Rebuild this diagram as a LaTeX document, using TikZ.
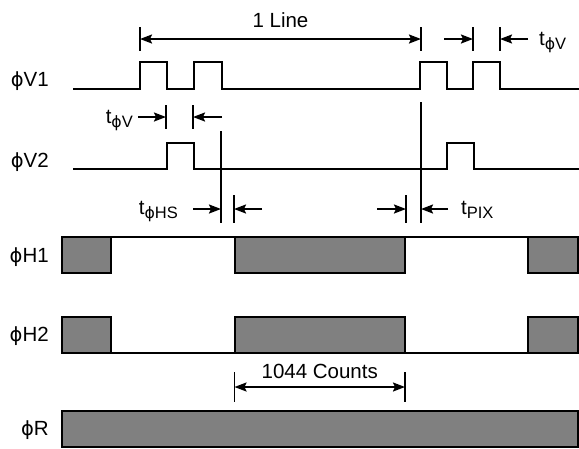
\documentclass[tikz,border=0pt]{standalone}
\usepackage{fontspec}
\setmainfont{Liberation Sans}
\newfontfamily\phifont[Scale=0.95]{DejaVu Sans}
\usetikzlibrary{arrows.meta}
\tikzstyle{signal}=[line width=2pt]
\tikzstyle{clockbox}=[draw=black, fill=black!50, line width=1.5pt]
\tikzstyle{tick}=[line width=1.8pt]
\tikzstyle{dim}=[draw, line width=1.8pt, -{Stealth[length=12pt,width=9pt,inset=2pt]}]
\tikzstyle{twodim}=[dim, {Stealth[length=12pt,width=9pt,inset=2pt]}-{Stealth[length=12pt,width=9pt,inset=2pt]}]
\tikzstyle{signame}=[anchor=base east, inner sep=0pt]
\tikzstyle{dimtext}=[midway, anchor=base, inner sep=0pt]
\tikzstyle{tname}=[inner sep=0pt]
\newcommand{\ph}{{\phifont ϕ}}
\newcommand{\tlabel}[1]{t\raisebox{-4.5pt}{\fontsize{16.5}{17}\selectfont #1}}

\begin{document}
\begin{tikzpicture}[x=1pt, y=-1pt, font=\fontsize{20.5}{24}\selectfont]
\useasboundingbox (0,0) rectangle (579,448);

% First we draw the signal names
\foreach \pos/\name/\lbl in {{(49,86)/V1/\ph V1}, {(49,167)/V2/\ph V2}, {(49,262)/H1/\ph H1},
                             {(49,341)/H2/\ph H2}, {(49,435)/R/\ph R}}
\node[signame] (n\name) at \pos {\lbl};

% Vertical clocks
\draw[signal] (73,89) \foreach \a/\b in {140/167, 194/222, 420/447, 473/500}
  { -- (\a,89) -- (\a,62) -- (\b,62) -- (\b,89) } -- (579,89);
\draw[signal] (73,169) \foreach \a/\b in {167/194, 447/474}
  { -- (\a,169) -- (\a,143) -- (\b,143) -- (\b,169) } -- (579,169);

% Horizontal clocks and reset
\draw[clockbox] (62,237) -- (578,237);
\draw[clockbox] (62,353) -- (578,353);
\foreach \a/\b in {62/111, 235/405, 528/578} {
  \draw[clockbox] (\a,237) rectangle (\b,273);
  \draw[clockbox] (\a,317) rectangle (\b,353);
}
\draw[clockbox] (62,411) rectangle (578,447);

% Reference lines
\draw[tick] (221,131) -- (221,223);
\draw[tick] (421,102) -- (421,223);

% Dimension points and their ticks
\foreach \x/\y/\name in {140/39/lineL, 421/39/lineR, 166/117/vA, 138/117/vAt,
                         193/117/vB, 222/117/vBt, 473/39/vC, 444/39/vCt,
                         500/39/vD, 528/39/vDt, 221/209/hsA, 193/209/hsAt,
                         234/209/hsB, 262/209/hsBt, 406/209/pxA, 377/209/pxAt,
                         421/209/pxB, 448/209/pxBt, 234.5/387/cntL, 405/387/cntR}
\coordinate (\name) at (\x,\y);

\foreach \name/\h in {lineL/12, lineR/12, vA/12, vB/12, vC/12, vD/12,
                      hsB/14, pxA/14, cntL/15, cntR/15}
\draw[tick] ([yshift=\h pt]\name) -- ([yshift=-\h pt]\name);

% Connect the ticks with arrows and draw the times
\draw[twodim] (lineL) -- node[dimtext, yshift=12pt] {1 Line} (lineR);
\draw[twodim] (cntL) -- node[dimtext, yshift=9pt] {1044 Counts} (cntR);

\foreach \source/\dest in {vAt/vA, vBt/vB, vCt/vC, vDt/vD, hsAt/hsA, hsBt/hsB, pxAt/pxA, pxBt/pxB}
\path[dim] (\source) -- (\dest);

\node[tname, anchor=base east] (tV1) at (133,123) {\tlabel{\ph V}};
\node[tname, anchor=base west] (tV2) at (539,45) {\tlabel{\ph V}};
\node[tname, anchor=base east] (tHS) at (178,214) {\tlabel{\ph HS}};
\node[tname, anchor=base west] (tPIX) at (461,214) {\tlabel{PIX}};

\end{tikzpicture}
\end{document}
